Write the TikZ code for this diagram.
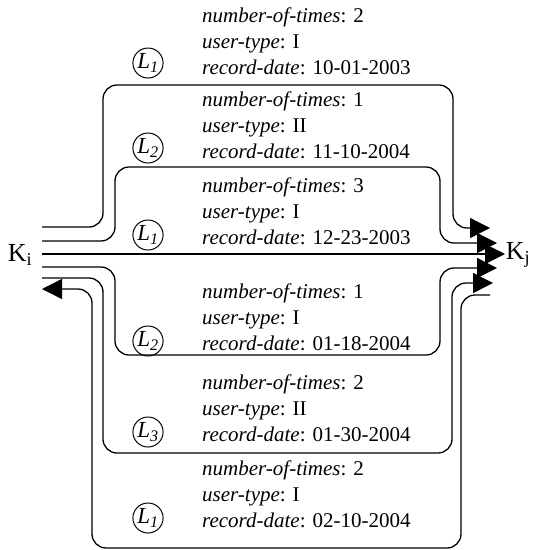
\documentclass[tikz,border=0pt]{standalone}
\usepackage{fontspec}
\setmainfont{Liberation Serif}
\usetikzlibrary{arrows.meta,shapes.geometric}

\tikzset{
  info/.style={anchor=base west, inner sep=0pt, font=\fontsize{21}{26}\selectfont},
  lab/.style={draw, ellipse, line width=1pt, minimum width=27pt, minimum height=30pt,
              inner sep=0pt, font=\fontsize{23}{26}\selectfont},
  key/.style={inner sep=0pt, font=\fontsize{26}{30}\selectfont},
  route/.style={line width=1.3pt, rounded corners=14pt},
  tip/.style={-{Triangle[length=20pt,width=20pt]}}
}

\newcommand{\Lab}[1]{\textit{L}\textsubscript{\textit{#1}}}

\begin{document}
\begin{tikzpicture}[x=1pt,y=-1pt]
  \useasboundingbox (0,0) rectangle (536,550);

  % end points
  \node[key] (Ki) at (20,255) {K\textsubscript{i}};
  \node[key] (Kj) at (518,255) {K\textsubscript{j}};

  % attribute blocks: number-of-times, user-type, record-date
  \foreach \k/\y/\nt/\ut/\rd in {1/22/2/I/10-01-2003, 2/106/1/II/11-10-2004,
      3/192/3/I/12-23-2003, 4/298/1/I/01-18-2004, 5/389/2/II/01-30-2004,
      6/475/2/I/02-10-2004} {
    \node[info] (n\k) at (202,\y)    {\textit{number-of-times}: \nt};
    \node[info] (u\k) at (202,\y+26) {\textit{user-type}: \ut};
    \node[info] (r\k) at (202,\y+52) {\textit{record-date}: \rd};
  }

  % link labels
  \node[lab] (c1) at (148,63)  {\Lab{1}};
  \node[lab] (c2) at (148,148) {\Lab{2}};
  \node[lab] (c3) at (148,235) {\Lab{1}};
  \node[lab] (c4) at (148,341) {\Lab{2}};
  \node[lab] (c5) at (148,432) {\Lab{3}};
  \node[lab] (c6) at (148,518) {\Lab{1}};

  % connector ends near K_i
  \coordinate (a1) at (42,227);
  \coordinate (a2) at (42,241);
  \coordinate (a3) at (42,254);
  \coordinate (a4) at (42,267);
  \coordinate (a5) at (42,278);
  \coordinate (a6) at (42,289);
  % connector ends near K_j
  \coordinate (b1) at (490,228);
  \coordinate (b2) at (497,243);
  \coordinate (b3) at (505,254);
  \coordinate (b4) at (497,268);
  \coordinate (b5) at (493,283);
  \coordinate (b6) at (490,295);

  \draw[route,tip] (a1) -- (103,227) -- (103,85)  -- (453,85)  -- (453,228) -- (b1);
  \draw[route,tip] (a2) -- (115,241) -- (115,167) -- (440,167) -- (440,243) -- (b2);
  \draw[route,tip] (a3) -- (b3);
  \draw[route,tip] (a4) -- (115,267) -- (115,355) -- (440,355) -- (440,268) -- (b4);
  \draw[route,tip] (a5) -- (103,278) -- (103,453) -- (452,453) -- (452,283) -- (b5);
  \draw[route,tip] (b6) -- (461,295) -- (461,548) -- (92,548)  -- (92,289)  -- (a6);
\end{tikzpicture}
\end{document}
